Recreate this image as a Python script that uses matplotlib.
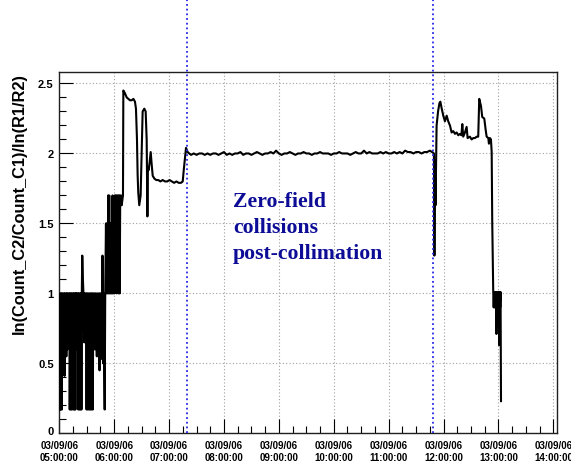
import matplotlib
matplotlib.use("Agg")
import matplotlib.pyplot as plt
from matplotlib.ticker import MultipleLocator, FixedLocator, FuncFormatter
from matplotlib.transforms import blended_transform_factory
import numpy as np

# ---------------- data (time in minutes since 03/09/06 05:00:00) ----------------
t_startup = [0.5, 1.0, 1.6, 2.2, 2.8, 3.2, 5.2, 5.7, 6.2, 7.3, 7.7, 8.3, 8.8, 9.4,
             11.0, 11.4, 12.0, 12.6, 13.2, 13.8, 14.2, 15.0, 15.4, 16.0, 16.6, 17.2,
             17.6, 18.0, 18.8, 19.1, 19.5, 20.4, 20.8, 21.4, 22.0, 22.6, 23.2, 23.8,
             24.2, 24.6, 25.1, 25.8, 26.4, 27.2, 27.8, 28.6, 29.2, 29.8, 30.4, 31.2,
             31.8, 32.6, 33.2, 34.0, 34.6, 35.2, 35.8, 36.6, 37.2, 38.0, 38.6, 39.4,
             40.0, 41.0, 41.6, 42.6, 43.2, 44.0, 44.6, 45.4, 46.0, 46.6, 47.2, 47.8,
             48.4, 49.0, 49.6, 50.2, 51.0, 51.6, 52.2, 52.8, 53.4, 54.0, 54.6, 55.2,
             55.8, 56.4, 57.0, 57.6, 58.2, 58.8, 59.4, 60.0, 60.6, 61.2, 61.8, 62.4,
             63.0, 63.6, 64.2, 64.8, 65.4, 66.0, 66.6, 67.4, 68.2, 69.6]
v_startup = [0.17, 1.00, 0.17, 1.00, 0.17, 1.00, 1.00, 0.41, 1.00, 1.00, 0.55, 1.00, 0.60, 1.00,
             1.00, 0.17, 1.00, 0.17, 1.00, 0.17, 1.00, 1.00, 0.17, 1.00, 0.17, 1.00,
             0.17, 1.00, 1.00, 0.60, 1.00, 1.00, 0.17, 1.00, 0.17, 1.00, 0.17, 1.00,
             0.17, 1.00, 1.27, 1.10, 1.00, 0.65, 1.00, 0.65, 1.00, 0.17, 1.00, 0.17,
             1.00, 0.17, 1.00, 0.17, 1.00, 0.17, 1.00, 0.17, 1.00, 0.60, 1.00, 0.60,
             1.00, 0.55, 1.00, 0.63, 1.00, 0.45, 1.00, 0.53, 1.00, 0.60, 1.27, 0.50,
             1.00, 0.50, 0.17, 1.00, 1.50, 1.00, 1.50, 1.00, 1.70, 1.00, 1.70, 1.00,
             1.50, 1.00, 1.50, 1.00, 1.70, 1.00, 1.50, 1.00, 1.70, 1.08, 1.70, 1.00,
             1.70, 1.20, 1.70, 1.00, 1.70, 1.00, 1.70, 1.70, 1.63, 1.70]

t_ramp = [70.0, 71.8, 73.7, 75.5, 77.3, 79.1, 81.0, 82.7, 83.8, 84.9, 85.6, 86.3, 87.4,
          88.9, 90.0, 91.1, 92.9, 94.4, 95.5, 96.3, 96.8, 97.6, 98.6, 99.9, 101.0, 102.1,
          104.0, 106.0, 108.2, 110.5, 113.0, 115.5, 118.0, 120.5, 123.0, 125.5, 128.0,
          130.5, 133.0, 134.9, 136.0, 137.4, 138.5, 140.3, 142.0]
v_ramp = [2.45, 2.43, 2.40, 2.39, 2.38, 2.38, 2.39, 2.37, 2.32, 2.10, 1.85, 1.72, 1.63,
          1.70, 2.00, 2.30, 2.32, 2.30, 2.10, 1.55, 1.90, 1.88, 1.93, 2.01, 1.92, 1.84,
          1.82, 1.81, 1.81, 1.80, 1.81, 1.80, 1.80, 1.81, 1.80, 1.79, 1.80,
          1.79, 1.79, 1.80, 1.88, 1.97, 2.04, 2.01, 2.00]

t_flat = [144, 147, 150, 153, 156, 159, 162, 165, 168, 171,
          174, 177, 180, 183, 186, 189, 192, 195, 198, 201,
          204, 207, 210, 213, 216, 219, 222, 225, 228, 231,
          234, 237, 240, 243, 246, 249, 252, 255, 258, 261,
          264, 267, 270, 273, 276, 279, 282, 285, 288, 291,
          294, 297, 300, 303, 306, 309, 312, 315, 318, 321,
          324, 327, 330, 333, 336, 339, 342, 345, 348, 351,
          354, 357, 360, 363, 366, 369, 372, 375, 378, 381,
          384, 387, 390, 393, 396, 399, 402, 405]
v_flat = [1.99, 2.00, 1.99, 2.00, 2.00, 1.99, 2.00, 1.99, 2.00, 2.00,
          1.99, 2.00, 2.01, 1.99, 2.00, 1.99, 2.00, 2.00, 2.01, 1.99,
          2.00, 2.00, 1.99, 2.00, 2.01, 2.00, 1.99, 2.00, 2.00, 2.01,
          2.00, 2.02, 2.00, 1.99, 2.00, 2.00, 2.01, 2.00, 1.99, 2.00,
          2.00, 2.01, 2.00, 2.00, 1.99, 2.00, 2.00, 2.01, 2.00, 2.00,
          2.00, 1.99, 2.00, 2.00, 2.01, 2.00, 2.00, 2.00, 1.99, 2.00,
          2.01, 2.00, 2.00, 2.02, 2.00, 2.01, 2.00, 2.00, 2.00, 2.01,
          2.00, 2.01, 2.00, 2.00, 2.01, 2.00, 2.01, 2.00, 2.02, 2.01,
          2.01, 2.00, 2.01, 2.01, 2.00, 2.01, 2.01, 2.02]

t_end = [407.5, 409.5, 410.0, 410.6, 411.2, 412.4, 414.0, 415.5, 416.5, 418.0, 419.7,
         421.5, 423.4, 425.1, 427.0, 428.8, 430.6, 432.5, 434.3, 436.1, 437.9, 439.5,
         440.5, 441.5, 443.4, 445.2, 446.3, 448.8, 450.7, 452.5, 454.3, 456.2, 457.9,
         459.0, 460.9, 462.3, 464.5, 466.0, 467.1, 468.9, 469.6, 470.7, 471.8, 472.6,
         473.2, 474.3, 474.8, 475.3, 475.8, 476.3, 476.8, 477.3, 477.8, 478.3, 478.8,
         479.3, 479.8, 480.3, 480.8, 481.3, 481.8, 482.3, 482.8]
v_end = [2.01, 2.00, 1.27, 1.95, 1.63, 2.20, 2.30, 2.36, 2.37, 2.32, 2.27,
         2.23, 2.27, 2.23, 2.20, 2.15, 2.16, 2.14, 2.15, 2.13, 2.14, 2.13,
         2.21, 2.12, 2.15, 2.19, 2.11, 2.12, 2.10, 2.11, 2.11, 2.12, 2.12,
         2.39, 2.34, 2.26, 2.25, 2.17, 2.12, 2.11, 2.07, 2.11, 2.10, 2.01,
         1.52, 1.01, 0.90, 1.01, 0.90, 1.01, 0.90, 1.01, 0.71, 1.01, 0.90,
         1.01, 0.90, 1.01, 0.63, 1.01, 0.90, 1.01, 0.23]

hour_ticks = [0, 60, 120, 180, 240, 300, 360, 420, 480, 540]
date_label = "03/09/06"
hour_labels = ["05:00:00", "06:00:00", "07:00:00", "08:00:00", "09:00:00",
               "10:00:00", "11:00:00", "12:00:00", "13:00:00", "14:00:00"]
marker_times = [139.2, 408.8]
annotation_lines = ["Zero-field", "collisions", "post-collimation"]
y_title = "ln(Count_C2/Count_C1)/ln(R1/R2)"

# ---------------- figure ----------------
W, H = 571, 464
fig = plt.figure(figsize=(W / 100, H / 100), dpi=100)
ax_l, ax_r, ax_t, ax_b = 59.3, 557.0, 73.3, 434.3
ax = fig.add_axes([ax_l / W, 1 - ax_b / H, (ax_r - ax_l) / W, (ax_b - ax_t) / H])

t = np.concatenate([t_startup, t_ramp, t_flat, t_end])
v = np.concatenate([v_startup, v_ramp, v_flat, v_end])
ax.plot(t, v, color="black", lw=1.5, zorder=3)

ax.set_xlim(0, 544)
ax.set_ylim(0, 2.58)

sans = "Liberation Sans"
ax.xaxis.set_major_locator(FixedLocator(hour_ticks))
ax.set_xticklabels([f"{date_label}\n{h}" for h in hour_labels],
                   fontfamily=sans, fontweight="bold", fontsize=7, linespacing=1.25)
ax.xaxis.set_minor_locator(MultipleLocator(15))
ax.yaxis.set_major_locator(MultipleLocator(0.5))
ax.yaxis.set_minor_locator(MultipleLocator(0.1))
# the "0" label is drawn separately (ROOT lifts it above the time labels)
ax.yaxis.set_major_formatter(FuncFormatter(lambda y, p: "" if abs(y) < 1e-9 else f"{y:g}"))
for lab in ax.get_yticklabels():
    lab.set_fontfamily(sans)
    lab.set_fontweight("bold")
    lab.set_fontsize(8)

ax.tick_params(axis="both", which="both", direction="in", top=False, right=False,
               color="black", width=0.8)
ax.tick_params(axis="y", which="major", length=10, pad=4)
ax.tick_params(axis="y", which="minor", length=5)
ax.tick_params(axis="x", which="major", length=10, pad=5)
ax.tick_params(axis="x", which="minor", length=5)

ax.grid(True, which="major", color="#a0a0a0", linestyle=(0, (1, 2)), lw=0.8, zorder=0)
for s in ax.spines.values():
    s.set_color("#202020")
    s.set_linewidth(1.0)

fig.text(53.5 / W, 1 - 435 / H, "0", fontfamily=sans, fontweight="bold", fontsize=8,
         ha="right", va="baseline")

# vertical blue dotted markers from top of figure to bottom of axes
trans = blended_transform_factory(ax.transData, fig.transFigure)
for m in marker_times:
    ax.plot([m, m], [1 - ax_b / H, 1.0], transform=trans, clip_on=False,
            color="#2828e6", lw=1.3, linestyle=(0, (1, 1.6)), zorder=4)

# annotation
serif = "Liberation Serif"
baselines = [207, 233, 259]
for txt, yb in zip(annotation_lines, baselines):
    fig.text(233 / W, 1 - yb / H, txt, fontfamily=serif, fontweight="bold",
             fontsize=15.7, color="#0c0c96", ha="left", va="baseline")

# y axis title
fig.text(19.3 / W, 1 - ax_t / H, y_title, rotation=90, ha="center", va="top",
         fontfamily=sans, fontweight="bold", fontsize=11.8)

fig.savefig("out.png", dpi=100)
